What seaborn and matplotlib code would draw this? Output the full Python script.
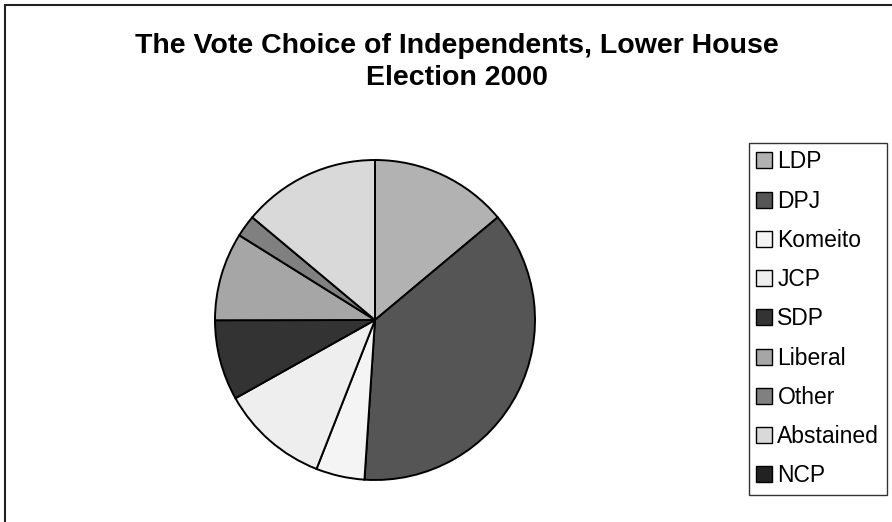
import matplotlib
matplotlib.use("Agg")
import matplotlib.pyplot as plt
import matplotlib.patches as mpatches
import seaborn as sns

parties = ["LDP", "DPJ", "Komeito", "JCP", "SDP", "Liberal", "Other", "Abstained", "NCP"]
shares = [13.9, 37.1, 4.9, 10.9, 8.1, 8.9, 2.2, 13.9, 0.0]
colors = ["#b2b2b2", "#555555", "#f4f4f4", "#eeeeee", "#333333", "#a6a6a6", "#808080", "#d9d9d9", "#222222"]
title = "The Vote Choice of Independents, Lower House\nElection 2000"

sns.set_theme(style="white")
plt.rcParams["font.family"] = ["Liberation Sans", "DejaVu Sans"]
plt.rcParams["text.color"] = "black"

W, H = 892, 522
fig = plt.figure(figsize=(W / 100, H / 100), dpi=100)
fig.patch.set_facecolor("white")

cx, cy, r = 375, 320, 160
ax = fig.add_axes([(cx - r) / W, (H - cy - r) / H, 2 * r / W, 2 * r / H])
wedges, _ = ax.pie(shares, colors=colors, startangle=90, counterclock=False,
                   wedgeprops=dict(edgecolor="black", linewidth=1.4))
ax.set_xlim(-1, 1)
ax.set_ylim(-1, 1)
ax.set_aspect("equal")
ax.axis("off")

fig.text(457 / W, 1 - 62 / H, title, ha="center", va="center", fontsize=20.5,
         fontweight="bold", linespacing=1.3, color="black")

handles = [mpatches.Patch(facecolor=c, edgecolor="black", linewidth=1.0) for c in colors]
leg = fig.legend(handles, parties, loc="upper left", bbox_to_anchor=(749 / W, 1 - 143 / H),
                 bbox_transform=fig.transFigure, fontsize=16.5, frameon=True,
                 fancybox=False, edgecolor="black", borderaxespad=0,
                 handlelength=0.7, handleheight=0.7, handletextpad=0.22,
                 labelspacing=0.71, borderpad=0.32)
leg.get_frame().set_linewidth(1.0)
for t in leg.get_texts():
    t.set_color("black")

border = mpatches.Rectangle((5 / W, -0.1), 1.2, 1 - 5 / H + 0.1, transform=fig.transFigure,
                            fill=False, edgecolor="#222222", linewidth=1.5)
fig.patches.append(border)

fig.savefig("out.png", dpi=100, facecolor="white")
